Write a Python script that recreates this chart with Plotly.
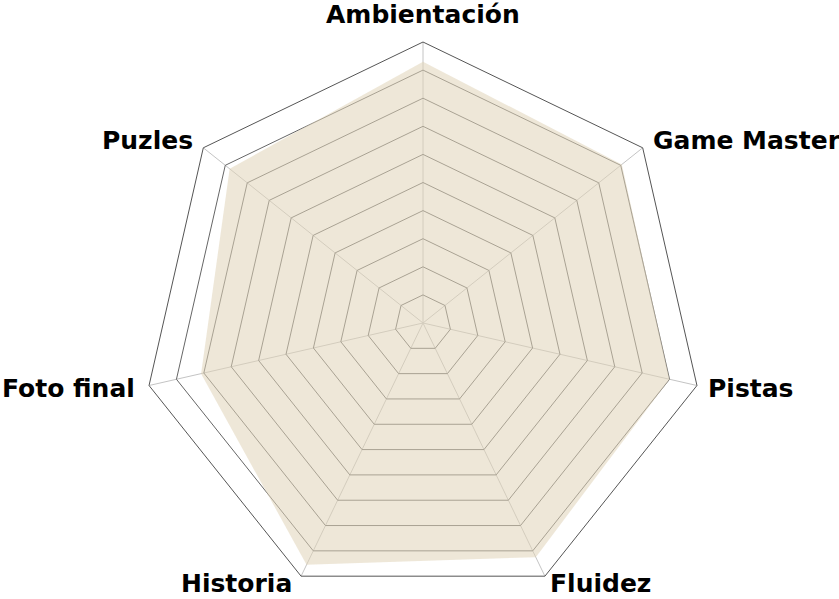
import plotly.graph_objects as go

# Categorias del radar (sentido horario desde arriba)
categorias = ["Ambientación", "Game Master", "Pistas", "Fluidez",
              "Historia", "Foto final", "Puzles"]
puntuaciones = [9.3, 9.05, 9.0, 9.25, 9.55, 8.1, 8.8]

# posicion de cada etiqueta (px de la captura) y su anclaje
etiqueta_x = [423, 653, 708, 550, 292, 135, 193]
etiqueta_y = [14, 141, 388, 583, 583, 388, 141]
etiqueta_anclaje = ["center", "left", "left", "left", "right", "right", "right"]

W, H = 839, 612    # lo que sobra por abajo queda fuera de la ventana

# cerrar el poligono
r_vals = puntuaciones + puntuaciones[:1]
theta_vals = categorias + categorias[:1]

fig = go.Figure()
fig.add_trace(go.Scatterpolar(
    r=r_vals, theta=theta_vals,
    mode="lines", fill="toself",
    fillcolor="rgba(224,211,184,0.55)",
    line=dict(color="rgba(224,211,184,0)", width=0),
    hoverinfo="r+theta", showlegend=False,
))

pad = {"left": -2, "right": 2, "center": 0}
for txt, x, y, anc in zip(categorias, etiqueta_x, etiqueta_y, etiqueta_anclaje):
    fig.add_annotation(text=txt, x=(x + pad[anc]) / W, y=1 - y / H,
                       xref="paper", yref="paper",
                       xanchor=anc, yanchor="middle", showarrow=False,
                       font=dict(size=25, family="DejaVu Sans", weight="bold",
                                 color="black"))

# circulo del radar: centro (423, 323), radio 281
cx, cy, R = 423, 323, 281
fig.update_layout(
    width=W, height=H,
    margin=dict(l=0, r=0, t=0, b=0),
    paper_bgcolor="white",
    font=dict(family="DejaVu Sans", color="black"),
    polar=dict(
        domain=dict(x=[(cx - R) / W, (cx + R) / W],
                    y=[1 - (cy + R) / H, 1 - (cy - R) / H]),
        bgcolor="white",
        gridshape="linear",
        radialaxis=dict(range=[0, 10], dtick=1, showticklabels=False,
                        ticks="", showline=False, gridcolor="#666666",
                        gridwidth=1),
        angularaxis=dict(direction="clockwise", rotation=90,
                         linecolor="#555555", linewidth=1,
                         gridcolor="#c4c4c4", ticks="",
                         showticklabels=False),
    ),
)

# sin margen en el body para que el grafico empiece en la esquina
fig.write_html("out.html",
               config={"displayModeBar": False},
               post_script="document.body.style.margin='0';"
                           "document.body.style.overflow='hidden';")
